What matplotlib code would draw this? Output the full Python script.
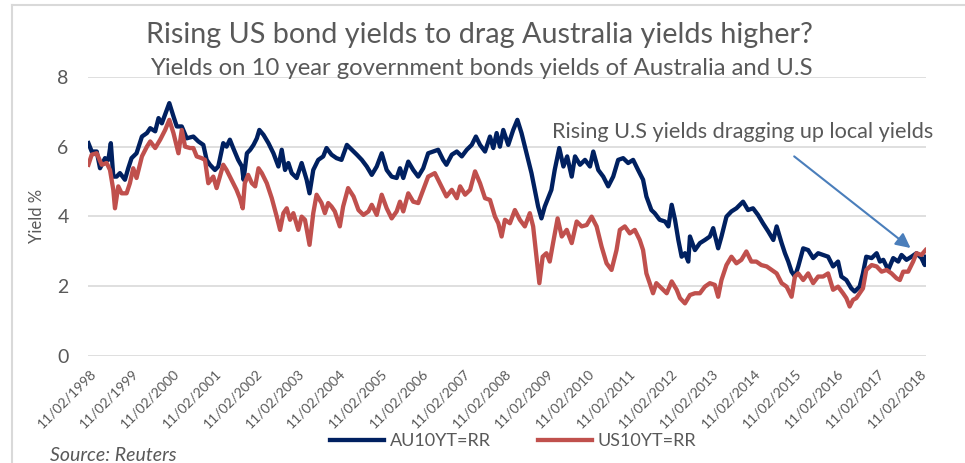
import matplotlib
matplotlib.use("Agg")
import matplotlib.pyplot as plt
from matplotlib.lines import Line2D

# 10 year government bond yields (%), sampled through time (decimal years)
au_year = [1998.07, 1998.15, 1998.27, 1998.35, 1998.47, 1998.55, 1998.61, 1998.67, 1998.75, 1998.83,
           1998.95, 1999.03, 1999.11, 1999.23, 1999.36, 1999.48, 1999.56, 1999.68, 1999.76, 1999.84,
           1999.96, 2000.02, 2000.12, 2000.20, 2000.32, 2000.44, 2000.60, 2000.72, 2000.84, 2000.92,
           2001.00, 2001.12, 2001.20, 2001.32, 2001.40, 2001.48, 2001.56, 2001.68, 2001.77, 2001.81,
           2001.89, 2001.97, 2002.05, 2002.13, 2002.19, 2002.29, 2002.41, 2002.53, 2002.65, 2002.73,
           2002.81, 2002.89, 2002.97, 2003.09, 2003.21, 2003.33, 2003.40, 2003.49, 2003.61, 2003.73,
           2003.81, 2003.93, 2004.05, 2004.17, 2004.30, 2004.42, 2004.54, 2004.66, 2004.78, 2004.90,
           2005.02, 2005.14, 2005.26, 2005.38, 2005.50, 2005.58, 2005.66, 2005.78, 2005.90, 2006.02,
           2006.14, 2006.26, 2006.38, 2006.50, 2006.62, 2006.70, 2006.83, 2006.95, 2007.07, 2007.19,
           2007.31, 2007.41, 2007.51, 2007.63, 2007.75, 2007.83, 2007.91, 2007.99, 2008.07, 2008.19,
           2008.31, 2008.41, 2008.51, 2008.63, 2008.75, 2008.83, 2008.91, 2008.99, 2009.07, 2009.15,
           2009.23, 2009.31, 2009.42, 2009.52, 2009.61, 2009.72, 2009.80, 2009.92, 2010.04, 2010.16,
           2010.24, 2010.36, 2010.48, 2010.60, 2010.72, 2010.84, 2010.96, 2011.08, 2011.20, 2011.32,
           2011.44, 2011.52, 2011.64, 2011.72, 2011.84, 2011.97, 2012.05, 2012.13, 2012.21, 2012.29,
           2012.37, 2012.45, 2012.53, 2012.57, 2012.69, 2012.81, 2012.93, 2013.05, 2013.13, 2013.25,
           2013.33, 2013.45, 2013.57, 2013.69, 2013.85, 2013.97, 2014.09, 2014.21, 2014.33, 2014.46,
           2014.58, 2014.66, 2014.78, 2014.86, 2014.94, 2015.02, 2015.10, 2015.18, 2015.30, 2015.42,
           2015.54, 2015.66, 2015.78, 2015.90, 2016.02, 2016.14, 2016.22, 2016.34, 2016.46, 2016.54,
           2016.66, 2016.74, 2016.82, 2016.95, 2017.07, 2017.15, 2017.23, 2017.35, 2017.47, 2017.59,
           2017.67, 2017.79, 2017.91, 2018.03, 2018.15, 2018.23, 2018.25]
au_yield = [6.10, 5.86, 5.86, 5.38, 5.67, 5.62, 6.10, 5.14, 5.14, 5.24,
            5.05, 5.38, 5.67, 5.81, 6.29, 6.39, 6.53, 6.44, 6.82, 6.67,
            7.06, 7.25, 6.87, 6.58, 6.58, 6.24, 6.29, 6.15, 6.05, 5.62,
            5.48, 5.33, 5.43, 6.10, 6.00, 6.20, 5.96, 5.62, 5.43, 5.05,
            5.81, 5.91, 6.05, 6.24, 6.48, 6.34, 6.10, 5.81, 5.43, 5.91,
            5.33, 5.53, 5.24, 5.10, 5.53, 5.05, 4.66, 5.33, 5.62, 5.72,
            5.96, 5.77, 5.67, 5.62, 6.05, 5.91, 5.77, 5.62, 5.43, 5.19,
            5.43, 5.81, 5.33, 5.14, 5.10, 5.38, 5.10, 5.57, 5.33, 5.14,
            5.38, 5.81, 5.86, 5.91, 5.62, 5.48, 5.77, 5.86, 5.72, 5.91,
            6.05, 6.29, 6.05, 5.86, 6.29, 5.96, 6.39, 6.00, 6.48, 6.05,
            6.48, 6.77, 6.39, 5.81, 5.24, 4.76, 4.28, 3.94, 4.28, 4.52,
            4.76, 5.33, 5.96, 5.43, 5.72, 5.14, 5.72, 5.48, 5.62, 5.43,
            5.86, 5.33, 5.14, 4.86, 5.14, 5.62, 5.67, 5.53, 5.62, 5.33,
            5.05, 4.57, 4.18, 4.09, 3.90, 3.85, 3.71, 4.33, 3.90, 3.32,
            2.84, 2.94, 2.70, 3.42, 3.03, 3.23, 3.32, 3.42, 3.66, 3.08,
            3.42, 3.99, 4.14, 4.23, 4.42, 4.18, 4.23, 4.04, 3.80, 3.56,
            3.32, 3.71, 3.23, 2.94, 2.70, 2.41, 2.27, 2.56, 3.08, 3.03,
            2.80, 2.94, 2.89, 2.84, 2.56, 2.70, 2.27, 2.17, 1.93, 1.84,
            1.98, 2.36, 2.84, 2.80, 2.94, 2.70, 2.75, 2.46, 2.80, 2.70,
            2.89, 2.75, 2.84, 2.94, 2.80, 2.60, 2.84]

us_year = [1998.07, 1998.15, 1998.27, 1998.39, 1998.51, 1998.59, 1998.67, 1998.71, 1998.79, 1998.87,
           1998.99, 1999.07, 1999.15, 1999.23, 1999.36, 1999.48, 1999.56, 1999.68, 1999.80, 1999.92,
           2000.02, 2000.12, 2000.24, 2000.32, 2000.40, 2000.52, 2000.60, 2000.68, 2000.80, 2000.88,
           2000.96, 2001.08, 2001.16, 2001.24, 2001.32, 2001.40, 2001.48, 2001.56, 2001.64, 2001.72,
           2001.79, 2001.84, 2001.92, 2002.01, 2002.09, 2002.17, 2002.25, 2002.37, 2002.49, 2002.61,
           2002.69, 2002.77, 2002.85, 2002.93, 2003.01, 2003.13, 2003.21, 2003.29, 2003.40, 2003.49,
           2003.57, 2003.69, 2003.77, 2003.85, 2003.93, 2004.01, 2004.13, 2004.21, 2004.33, 2004.46,
           2004.58, 2004.70, 2004.82, 2004.90, 2005.02, 2005.14, 2005.26, 2005.38, 2005.50, 2005.58,
           2005.66, 2005.78, 2005.90, 2006.02, 2006.14, 2006.26, 2006.34, 2006.42, 2006.50, 2006.62,
           2006.70, 2006.83, 2006.95, 2007.03, 2007.15, 2007.27, 2007.39, 2007.51, 2007.63, 2007.75,
           2007.87, 2007.95, 2008.03, 2008.11, 2008.23, 2008.35, 2008.47, 2008.59, 2008.71, 2008.79,
           2008.87, 2008.94, 2009.02, 2009.11, 2009.19, 2009.27, 2009.38, 2009.48, 2009.60, 2009.72,
           2009.84, 2009.96, 2010.08, 2010.20, 2010.32, 2010.44, 2010.56, 2010.68, 2010.80, 2010.88,
           2011.00, 2011.12, 2011.24, 2011.36, 2011.44, 2011.52, 2011.60, 2011.68, 2011.76, 2011.89,
           2012.01, 2012.13, 2012.25, 2012.33, 2012.45, 2012.57, 2012.69, 2012.81, 2012.93, 2013.05,
           2013.17, 2013.25, 2013.33, 2013.45, 2013.57, 2013.69, 2013.81, 2013.93, 2014.05, 2014.17,
           2014.29, 2014.42, 2014.54, 2014.66, 2014.78, 2014.90, 2015.02, 2015.10, 2015.18, 2015.30,
           2015.42, 2015.54, 2015.66, 2015.78, 2015.90, 2016.02, 2016.14, 2016.26, 2016.34, 2016.42,
           2016.50, 2016.58, 2016.66, 2016.74, 2016.82, 2016.95, 2017.07, 2017.19, 2017.31, 2017.43,
           2017.55, 2017.63, 2017.71, 2017.83, 2017.95, 2018.03, 2018.15, 2018.25]
us_yield = [5.48, 5.77, 5.81, 5.48, 5.53, 5.33, 4.76, 4.23, 4.86, 4.66,
            4.66, 4.95, 5.38, 5.10, 5.72, 6.00, 6.15, 5.96, 6.20, 6.48,
            6.77, 6.39, 5.81, 6.48, 6.00, 5.96, 5.96, 5.72, 5.67, 5.62,
            4.95, 5.14, 4.81, 5.14, 5.48, 5.33, 5.14, 4.95, 4.76, 4.52,
            4.23, 4.95, 5.19, 4.95, 4.86, 5.38, 5.24, 4.95, 4.52, 3.99,
            3.61, 4.09, 4.23, 3.90, 4.09, 3.61, 3.99, 3.90, 3.18, 4.09,
            4.62, 4.38, 4.09, 4.38, 4.28, 4.14, 3.71, 4.28, 4.81, 4.57,
            4.18, 4.04, 4.14, 4.33, 4.04, 4.62, 4.23, 3.94, 4.14, 4.42,
            4.14, 4.66, 4.42, 4.38, 4.76, 5.14, 5.19, 5.24, 5.05, 4.76,
            4.57, 4.76, 4.52, 4.86, 4.62, 4.76, 5.29, 4.95, 4.52, 4.47,
            3.99, 3.80, 3.42, 3.90, 3.80, 4.18, 3.90, 3.71, 4.09, 3.71,
            2.84, 2.08, 2.84, 2.94, 2.70, 3.23, 3.94, 3.42, 3.61, 3.23,
            3.85, 3.71, 3.75, 3.99, 3.71, 3.13, 2.65, 2.46, 3.03, 3.61,
            3.71, 3.51, 3.61, 3.32, 3.03, 2.36, 2.08, 1.79, 2.08, 1.93,
            1.79, 2.13, 1.89, 1.65, 1.50, 1.74, 1.79, 1.79, 1.98, 2.08,
            2.03, 1.69, 2.17, 2.60, 2.84, 2.65, 2.75, 2.99, 2.70, 2.70,
            2.60, 2.56, 2.46, 2.36, 2.08, 1.98, 1.69, 2.27, 2.36, 2.17,
            2.36, 2.08, 2.27, 2.27, 2.36, 1.89, 1.98, 1.79, 1.65, 1.41,
            1.60, 1.65, 1.79, 1.93, 2.46, 2.60, 2.56, 2.41, 2.46, 2.36,
            2.22, 2.17, 2.41, 2.41, 2.70, 2.94, 2.89, 3.03]

series_names = ["AU10YT=RR", "US10YT=RR"]
tick_years = list(range(1998, 2019))
tick_labels = ["11/02/%d" % y for y in tick_years]

NAVY = "#002060"
RED = "#C0504D"
GREY = "#595959"
GRID = "#D9D9D9"
ARROW = "#4A7EBB"

plt.rcParams["font.family"] = ["Lato", "DejaVu Sans"]

W, H = 965, 463
fig = plt.figure(figsize=(W / 100, H / 100), dpi=100)
ax = fig.add_axes([88 / W, 1 - 355.6 / H, (926 - 88) / W, (355.6 - 77) / H])

ax.plot(au_year, au_yield, color=NAVY, lw=3.1, solid_joinstyle="round", label=series_names[0])
ax.plot(us_year, us_yield, color=RED, lw=3.1, solid_joinstyle="round", label=series_names[1])

ax.set_xlim(1998.06, 2018.26)
ax.set_ylim(0, 8)
ax.set_yticks([0, 2, 4, 6, 8])
ax.yaxis.grid(True, color=GRID, lw=1.2)
ax.set_axisbelow(True)
for s in ax.spines.values():
    s.set_visible(False)

tick_pos = [y + 41 / 365 for y in tick_years]
ax.set_xticks(tick_pos)
ax.set_xticklabels(tick_labels, rotation=45, ha="right", va="top", rotation_mode="anchor")
ax.tick_params(axis="x", length=0, pad=8, labelsize=10, labelcolor=GREY)
ax.tick_params(axis="y", length=0, pad=14, labelsize=14, labelcolor=GREY)

fig.text(37 / W, 1 - 216 / H, "Yield %", rotation=90, ha="center", va="center",
         fontsize=12, color=GREY)

fig.text(479 / W, 1 - 43 / H, "Rising US bond yields to drag Australia yields higher?",
         ha="center", va="baseline", fontsize=20.7, color=GREY)
fig.text(481 / W, 1 - 75 / H, "Yields on 10 year government bonds yields of Australia and U.S",
         ha="center", va="baseline", fontsize=17.2, color=GREY)

ax.text(2009.24, 6.26, "Rising U.S yields dragging up local yields", ha="left",
        va="baseline", fontsize=15.6, color=GREY)
ax.annotate("", xy=(2017.94, 3.04), xytext=(2015.03, 5.77),
            arrowprops=dict(arrowstyle="-|>", color=ARROW, lw=1.5, mutation_scale=22))

fig.legend(loc="center", bbox_to_anchor=(513 / W, 1 - 441 / H), ncol=2, frameon=False,
           fontsize=13, labelcolor=GREY, handlelength=3.0, columnspacing=2.6,
           handletextpad=0.3)

fig.text(50 / W, 1 - 447 / H, "Source: Reuters", ha="left", va="top", fontsize=14,
         style="italic", color=GREY)

# outer chart frame
fig.add_artist(Line2D([12 / W, 12 / W], [0, 1 - 5 / H], color=GRID, lw=1.5))
fig.add_artist(Line2D([12 / W, 1], [1 - 5 / H, 1 - 5 / H], color=GRID, lw=1.5))

fig.savefig("out.png", dpi=100)
